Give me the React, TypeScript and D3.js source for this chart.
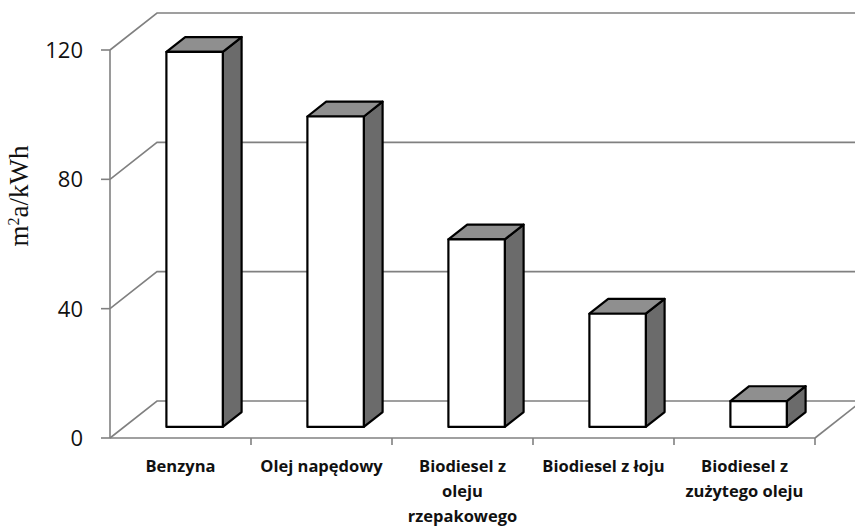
import React, { useEffect, useRef } from "react";
import { scaleBand, scaleLinear, select } from "d3";

const WIDTH = 855;
const HEIGHT = 527;

const categories = [
    "Benzyna",
    "Olej napędowy",
    "Biodiesel z oleju rzepakowego",
    "Biodiesel z łoju",
    "Biodiesel z zużytego oleju",
];
const categoryLines = [
    ["Benzyna"],
    ["Olej napędowy"],
    ["Biodiesel z", "oleju", "rzepakowego"],
    ["Biodiesel z łoju"],
    ["Biodiesel z", "zużytego oleju"],
];
const values = [116, 96, 58, 35, 8];
const yTicks = [0, 40, 80, 120];

// projection of the 3D box
const FRONT_LEFT = 110;
const FRONT_RIGHT = 815;
const FRONT_BOTTOM = 438;
const FRONT_TOP = 50;
const DEPTH_X = 47;
const DEPTH_Y = -37;
const BAR_DEPTH_START = 0.3;
const BAR_DEPTH_END = 0.7;
const BAR_WIDTH_RATIO = 0.4;

const GRID_COLOR = "#808080";

export default function App() {
    const svgRef = useRef<SVGSVGElement>(null);

    useEffect(() => {
        const svg = select(svgRef.current);
        svg.selectAll("*").remove();

        const xScale = scaleBand<string>().domain(categories).range([FRONT_LEFT, FRONT_RIGHT]).padding(0);
        const yScale = scaleLinear().domain([0, 120]).range([FRONT_BOTTOM, FRONT_TOP]);

        // gridlines: diagonal on the side wall, then horizontal on the back wall
        yTicks.forEach(t => {
            const y = yScale(t);
            svg.append("path")
                .attr("d", `M${FRONT_LEFT},${y} L${FRONT_LEFT + DEPTH_X},${y + DEPTH_Y} L${WIDTH + 20},${y + DEPTH_Y}`)
                .attr("fill", "none")
                .attr("stroke", GRID_COLOR)
                .attr("stroke-width", 1.6);
        });

        // floor right edge
        svg.append("line")
            .attr("x1", FRONT_RIGHT).attr("y1", FRONT_BOTTOM)
            .attr("x2", FRONT_RIGHT + DEPTH_X).attr("y2", FRONT_BOTTOM + DEPTH_Y)
            .attr("stroke", GRID_COLOR).attr("stroke-width", 1.6);

        // value axis
        svg.append("line")
            .attr("x1", FRONT_LEFT).attr("y1", yScale(120))
            .attr("x2", FRONT_LEFT).attr("y2", yScale(0))
            .attr("stroke", GRID_COLOR).attr("stroke-width", 1.6);
        yTicks.forEach(t => {
            const y = yScale(t);
            svg.append("line")
                .attr("x1", FRONT_LEFT - 9).attr("y1", y)
                .attr("x2", FRONT_LEFT).attr("y2", y)
                .attr("stroke", GRID_COLOR).attr("stroke-width", 1.6);
            svg.append("text")
                .attr("x", 83)
                .attr("y", y)
                .attr("dy", "0.36em")
                .attr("text-anchor", "end")
                .attr("font-family", "'Open Sans', sans-serif")
                .attr("font-size", 22)
                .attr("fill", "#111")
                .text(t);
        });

        // category axis
        svg.append("line")
            .attr("x1", FRONT_LEFT).attr("y1", FRONT_BOTTOM)
            .attr("x2", FRONT_RIGHT).attr("y2", FRONT_BOTTOM)
            .attr("stroke", GRID_COLOR).attr("stroke-width", 1.6);
        categories.forEach((c, i) => {
            const x0 = xScale(c)!;
            svg.append("line")
                .attr("x1", x0 + xScale.bandwidth()).attr("y1", FRONT_BOTTOM)
                .attr("x2", x0 + xScale.bandwidth()).attr("y2", FRONT_BOTTOM + 7)
                .attr("stroke", GRID_COLOR).attr("stroke-width", 1.6);
            const label = svg.append("text")
                .attr("text-anchor", "middle")
                .attr("font-family", "'Open Sans', sans-serif")
                .attr("font-weight", "bold")
                .attr("font-size", 16.5)
                .attr("fill", "#111");
            categoryLines[i].forEach((ln, j) => {
                label.append("tspan")
                    .attr("x", x0 + xScale.bandwidth() / 2)
                    .attr("y", 472 + j * 25)
                    .text(ln);
            });
        });

        // bars
        const bw = xScale.bandwidth() * BAR_WIDTH_RATIO;
        const dx = (BAR_DEPTH_END - BAR_DEPTH_START) * DEPTH_X;
        const dy = (BAR_DEPTH_END - BAR_DEPTH_START) * DEPTH_Y;
        categories.forEach((c, i) => {
            const cx = xScale(c)! + xScale.bandwidth() / 2 + BAR_DEPTH_START * DEPTH_X;
            const left = cx - bw / 2;
            const right = cx + bw / 2;
            const bottom = yScale(0) + BAR_DEPTH_START * DEPTH_Y;
            const top = yScale(values[i]) + BAR_DEPTH_START * DEPTH_Y;
            const g = svg.append("g")
                .attr("stroke", "#000")
                .attr("stroke-width", 2.2)
                .attr("stroke-linejoin", "round");
            g.append("path")
                .attr("d", `M${right},${top} L${right + dx},${top + dy} L${right + dx},${bottom + dy} L${right},${bottom} Z`)
                .attr("fill", "#6b6b6b");
            g.append("path")
                .attr("d", `M${left},${top} L${left + dx},${top + dy} L${right + dx},${top + dy} L${right},${top} Z`)
                .attr("fill", "#8f8f8f");
            g.append("rect")
                .attr("x", left).attr("y", top)
                .attr("width", bw).attr("height", bottom - top)
                .attr("fill", "#fff");
        });

        // axis title
        const title = svg.append("text")
            .attr("transform", "translate(28,196) rotate(-90)")
            .attr("text-anchor", "middle")
            .attr("font-family", "'Liberation Serif', serif")
            .attr("font-size", 27)
            .attr("fill", "#111");
        title.append("tspan").text("m");
        title.append("tspan").attr("dy", -9).attr("font-size", 16).text("2");
        title.append("tspan").attr("dy", 9).text("a/kWh");
    }, []);

    return (
        <svg
            ref={svgRef}
            width={WIDTH}
            height={HEIGHT}
            style={{ position: "absolute", left: 0, top: 0, background: "#fff" }}
        />
    );
}
